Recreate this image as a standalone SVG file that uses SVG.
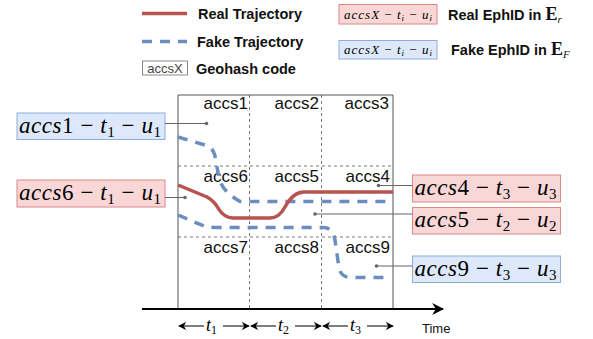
<svg xmlns="http://www.w3.org/2000/svg" width="593" height="339" viewBox="0 0 593 339">
<style>
.lbl{font-family:"Liberation Sans",Arial,sans-serif;font-size:17px;fill:#111;text-anchor:end}
.lg{font-family:"Liberation Sans",Arial,sans-serif;font-size:14.5px;font-weight:bold;fill:#111}
.m{font-family:"Liberation Serif","Times New Roman",serif;font-size:23px;fill:#000}
.ms{font-family:"Liberation Serif","Times New Roman",serif;font-size:13px;fill:#000}
.tl{font-family:"Liberation Serif","Times New Roman",serif;font-size:18px;fill:#000}
.it{font-style:italic}
.rbox{fill:#f8d7d6;stroke:#d98886;stroke-width:1}
.bbox{fill:#dde9fb;stroke:#8eaddb;stroke-width:1}
.grid{stroke:#555;stroke-width:0.8;stroke-dasharray:3 3;fill:none}
.outer{stroke:#555;stroke-width:1;fill:none}
.real{stroke:#b85450;stroke-width:3.5;fill:none}
.fake{stroke:#6c8ebf;stroke-width:3.5;fill:none;stroke-dasharray:10 8}
.call{stroke:#666;stroke-width:1;fill:none}
.dot{fill:#666}
.tarr{stroke:#000;stroke-width:1;fill:none;marker-start:url(#ah);marker-end:url(#ah)}
</style>
<defs>
<marker id="ah" viewBox="0 0 10 10" refX="9" refY="5" markerWidth="8" markerHeight="8" markerUnits="userSpaceOnUse" orient="auto-start-reverse">
<path d="M0,0 L10,5 L0,10 L3,5 Z" fill="#000"/>
</marker>
<marker id="bigah" viewBox="0 0 10 10" refX="9" refY="5" markerWidth="12" markerHeight="12" markerUnits="userSpaceOnUse" orient="auto">
<path d="M0,0 L10,5 L0,10 L3,5 Z" fill="#000"/>
</marker>
</defs>
<rect width="593" height="339" fill="#fff"/>

<g id="legend">
  <line x1="142" y1="13.5" x2="187" y2="13.5" class="real"/>
  <text x="198" y="19" class="lg">Real Trajectory</text>
  <line x1="142" y1="41.5" x2="187" y2="41.5" class="fake" stroke-dasharray="11 10"/>
  <text x="197" y="47" class="lg">Fake Trajectory</text>
  <rect x="142.5" y="61" width="45" height="14" fill="#fff" stroke="#888"/>
  <text x="165" y="72.5" font-family="Liberation Sans,Arial,sans-serif" font-size="13" fill="#444" text-anchor="middle">accsX</text>
  <text x="196" y="73.5" class="lg">Geohash code</text>
  <rect x="339" y="4.5" width="98" height="19.5" class="rbox"/>
  <text x="344" y="18.5" class="ms" textLength="88" lengthAdjust="spacing"><tspan class="it">accsX</tspan> − <tspan class="it">t</tspan><tspan class="it" font-size="9" dy="2">i</tspan><tspan dy="-2"> − </tspan><tspan class="it">u</tspan><tspan class="it" font-size="9" dy="2">i</tspan></text>
  <text x="448" y="19.5" class="lg">Real EphID in <tspan font-family="Liberation Serif,serif" font-size="18">E</tspan><tspan font-family="Liberation Serif,serif" font-style="italic" font-weight="normal" font-size="11" dy="3">r</tspan></text>
  <rect x="339" y="40.5" width="98" height="18.5" class="bbox"/>
  <text x="344" y="54" class="ms" textLength="88" lengthAdjust="spacing"><tspan class="it">accsX</tspan> − <tspan class="it">t</tspan><tspan class="it" font-size="9" dy="2">i</tspan><tspan dy="-2"> − </tspan><tspan class="it">u</tspan><tspan class="it" font-size="9" dy="2">i</tspan></text>
  <text x="451" y="55" class="lg">Fake EphID in <tspan font-family="Liberation Serif,serif" font-size="18">E</tspan><tspan font-family="Liberation Serif,serif" font-style="italic" font-weight="normal" font-size="11" dy="3">F</tspan></text>
</g>

<g id="grid">
  <line x1="178" y1="95" x2="393" y2="95" class="outer"/>
  <line x1="178" y1="95" x2="178" y2="309" class="outer"/>
  <line x1="393" y1="95" x2="393" y2="309" class="outer"/>
  <line x1="249.5" y1="95" x2="249.5" y2="309" class="grid"/>
  <line x1="321.5" y1="95" x2="321.5" y2="309" class="grid"/>
  <line x1="178" y1="166" x2="393" y2="166" class="grid"/>
  <line x1="178" y1="237" x2="393" y2="237" class="grid"/>
  <text x="248" y="109" class="lbl">accs1</text>
  <text x="319" y="109" class="lbl">accs2</text>
  <text x="389" y="109" class="lbl">accs3</text>
  <text x="248" y="182" class="lbl">accs6</text>
  <text x="319" y="182" class="lbl">accs5</text>
  <text x="390" y="182" class="lbl">accs4</text>
  <text x="248" y="253" class="lbl">accs7</text>
  <text x="319" y="253" class="lbl">accs8</text>
  <text x="390" y="253" class="lbl">accs9</text>
</g>

<g id="trajectories">
  <path class="fake" d="M178,137 L208,146 Q213,148 215,156 L219,178 Q222,190 236,199 L240,201.5 L390,201.5"/>
  <path class="fake" d="M178,215 L204,226 Q208,227.5 216,227.5 L324,227.5 Q333,228 335,240 L339,268 Q341,277 350,277.5 L388,277.5"/>
  <path class="real" d="M178,185 L207,197 Q214,201 218,208 Q224,218 233,218 L270,218 Q279,218 285,207 Q293,192 304,192 L393,192"/>
</g>

<g id="time-axis">
  <line x1="142" y1="309" x2="443" y2="309" stroke="#000" stroke-width="2" marker-end="url(#bigah)"/>
  <text x="422" y="333" font-family="Liberation Sans,Arial,sans-serif" font-size="13" fill="#111">Time</text>
  <line x1="179" y1="326" x2="249" y2="326" class="tarr"/>
  <line x1="251" y1="326" x2="321" y2="326" class="tarr"/>
  <line x1="323" y1="326" x2="393" y2="326" class="tarr"/>
  <rect x="204" y="315" width="19" height="20" fill="#fff"/>
  <rect x="276" y="315" width="19" height="20" fill="#fff"/>
  <rect x="348" y="315" width="19" height="20" fill="#fff"/>
  <text x="206" y="331" class="tl"><tspan class="it">t</tspan><tspan font-size="12" dy="3">1</tspan></text>
  <text x="278" y="331" class="tl"><tspan class="it">t</tspan><tspan font-size="12" dy="3">2</tspan></text>
  <text x="350" y="331" class="tl"><tspan class="it">t</tspan><tspan font-size="12" dy="3">3</tspan></text>
</g>

<g id="callout-accs1">
  <rect x="17" y="113" width="148" height="26.5" class="bbox"/>
  <text x="19" y="132.5" class="m" textLength="142" lengthAdjust="spacing"><tspan class="it">accs</tspan>1 − <tspan class="it">t</tspan><tspan font-size="15" dy="4">1</tspan><tspan dy="-4"> − </tspan><tspan class="it">u</tspan><tspan font-size="15" dy="4">1</tspan></text>
  <line x1="165" y1="123.5" x2="206.5" y2="123.5" class="call"/>
  <circle cx="206.5" cy="123.5" r="1.8" class="dot"/>
</g>
<g id="callout-accs6">
  <rect x="17" y="180" width="148" height="27" class="rbox"/>
  <text x="19" y="199.5" class="m" textLength="142" lengthAdjust="spacing"><tspan class="it">accs</tspan>6 − <tspan class="it">t</tspan><tspan font-size="15" dy="4">1</tspan><tspan dy="-4"> − </tspan><tspan class="it">u</tspan><tspan font-size="15" dy="4">1</tspan></text>
  <line x1="165" y1="197.5" x2="185" y2="197.5" class="call"/>
  <circle cx="185" cy="197.5" r="1.8" class="dot"/>
</g>
<g id="callout-accs4">
  <rect x="412.5" y="175" width="148" height="27" class="rbox"/>
  <text x="414.5" y="194.5" class="m" textLength="142" lengthAdjust="spacing"><tspan class="it">accs</tspan>4 − <tspan class="it">t</tspan><tspan font-size="15" dy="4">3</tspan><tspan dy="-4"> − </tspan><tspan class="it">u</tspan><tspan font-size="15" dy="4">3</tspan></text>
  <line x1="378.5" y1="185.5" x2="412.5" y2="185.5" class="call"/>
  <circle cx="378.5" cy="185.5" r="1.8" class="dot"/>
</g>
<g id="callout-accs5">
  <rect x="412.5" y="207.5" width="148" height="26.5" class="rbox"/>
  <text x="414.5" y="227" class="m" textLength="142" lengthAdjust="spacing"><tspan class="it">accs</tspan>5 − <tspan class="it">t</tspan><tspan font-size="15" dy="4">2</tspan><tspan dy="-4"> − </tspan><tspan class="it">u</tspan><tspan font-size="15" dy="4">2</tspan></text>
  <line x1="315" y1="214" x2="412.5" y2="214" class="call"/>
  <circle cx="315" cy="214" r="1.8" class="dot"/>
</g>
<g id="callout-accs9">
  <rect x="412.5" y="256" width="148" height="26.5" class="bbox"/>
  <text x="414.5" y="275.5" class="m" textLength="142" lengthAdjust="spacing"><tspan class="it">accs</tspan>9 − <tspan class="it">t</tspan><tspan font-size="15" dy="4">3</tspan><tspan dy="-4"> − </tspan><tspan class="it">u</tspan><tspan font-size="15" dy="4">3</tspan></text>
  <line x1="376.5" y1="266" x2="412.5" y2="266" class="call"/>
  <circle cx="376.5" cy="266" r="1.8" class="dot"/>
</g>
</svg>
